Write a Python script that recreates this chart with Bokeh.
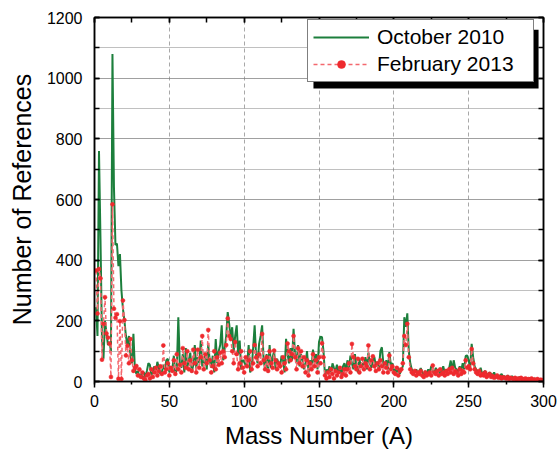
from bokeh.plotting import figure
from bokeh.models import (Range1d, LinearAxis, SingleIntervalTicker, Legend, LegendItem,
                          BoxAnnotation, ColumnDataSource, CustomJSTickFormatter)
from bokeh.embed import file_html
from bokeh.resources import INLINE

# Number of references per mass number A (A = 1 .. 300)
oct2010 = [
    245, 150, 760, 470, 140, 75, 200, 160, 120, 130, 100, 1080,
    640, 450, 455, 380, 420, 300, 240, 200, 150, 120, 150, 85,
    60, 157, 40, 25, 35, 15, 25, 10, 30, 15, 35, 60,
    55, 20, 35, 50, 30, 65, 45, 25, 30, 55, 40, 70,
    75, 30, 50, 40, 85, 25, 40, 212, 60, 45, 90, 30,
    110, 45, 70, 95, 30, 55, 120, 45, 80, 60, 135, 50,
    60, 90, 40, 120, 70, 45, 85, 30, 140, 60, 100, 120,
    185, 70, 110, 150, 229, 190, 140, 179, 100, 150, 185, 90,
    135, 40, 70, 68, 50, 60, 120, 30, 45, 110, 185, 80,
    60, 125, 150, 185, 70, 40, 90, 30, 120, 45, 80, 100,
    40, 75, 60, 50, 85, 70, 30, 141, 90, 60, 110, 70,
    174, 90, 60, 120, 50, 90, 70, 40, 60, 100, 30, 70,
    45, 105, 60, 90, 40, 130, 148, 146, 100, 20, 40, 30,
    50, 25, 60, 45, 35, 55, 30, 45, 20, 50, 60, 35,
    70, 40, 85, 60, 40, 90, 50, 30, 75, 45, 60, 50,
    80, 40, 95, 60, 45, 70, 80, 50, 65, 40, 100, 113,
    60, 45, 70, 40, 97, 55, 60, 35, 40, 30, 45, 25,
    40, 50, 212, 180, 225, 100, 60, 40, 35, 30, 40, 25,
    35, 44, 30, 20, 35, 25, 40, 30, 50, 35, 25, 45,
    30, 40, 25, 35, 50, 30, 40, 25, 45, 69, 35, 70,
    45, 40, 30, 50, 35, 60, 40, 84, 86, 70, 45, 124,
    80, 50, 40, 35, 30, 45, 25, 30, 35, 20, 25, 30,
    25, 20, 30, 18, 22, 15, 20, 25, 15, 18, 12, 20,
    15, 12, 18, 10, 14, 12, 10, 15, 8, 12, 10, 8,
    10, 8, 12, 6, 8, 10, 6, 5, 8, 4, 6, 5,
]
feb2013 = [
    366, 224, 371, 340, 72, 190, 278, 158, 145, 125, 15, 584,
    240, 210, 222, 9, 199, 8, 267, 203, 86, 118, 60, 140,
    70, 35, 45, 51, 20, 40, 15, 30, 10, 5, 20, 25,
    10, 40, 15, 30, 45, 20, 35, 50, 25, 119, 30, 40,
    60, 20, 45, 35, 70, 25, 90, 40, 55, 30, 110, 60,
    45, 100, 40, 70, 35, 105, 60, 30, 105, 45, 80, 150,
    40, 90, 60, 170, 70, 30, 50, 100, 40, 80, 55, 95,
    60, 100, 80, 120, 208, 150, 140, 100, 60, 130, 90, 40,
    60, 100, 45, 30, 80, 50, 70, 100, 40, 60, 120, 80,
    50, 90, 60, 157, 70, 40, 80, 35, 100, 60, 45, 102,
    70, 40, 60, 50, 30, 80, 60, 40, 125, 100, 70, 90,
    150, 80, 40, 110, 60, 100, 50, 80, 30, 70, 20, 60,
    40, 90, 50, 70, 30, 80, 60, 126, 80, 20, 10, 30,
    15, 40, 25, 10, 35, 20, 30, 45, 15, 25, 40, 20,
    40, 60, 30, 124, 80, 50, 40, 75, 30, 50, 75, 40,
    60, 50, 119, 40, 70, 83, 50, 35, 60, 40, 70, 50,
    30, 60, 45, 30, 86, 40, 50, 30, 25, 45, 20, 35,
    40, 60, 150, 120, 190, 80, 40, 30, 25, 35, 20, 30,
    25, 35, 20, 15, 30, 20, 25, 30, 20, 53, 30, 25,
    35, 20, 40, 25, 30, 20, 35, 25, 40, 30, 45, 25,
    35, 30, 20, 40, 25, 35, 30, 70, 45, 50, 40, 107,
    60, 40, 30, 25, 35, 20, 25, 20, 30, 15, 20, 25,
    15, 18, 12, 15, 20, 12, 15, 10, 14, 12, 10, 15,
    8, 12, 10, 8, 12, 6, 10, 8, 12, 6, 8, 10,
    5, 8, 6, 10, 5, 7, 5, 8, 4, 6, 5, 3,
]
mass_oct = list(range(1, len(oct2010) + 1))
mass_feb = list(range(1, len(feb2013) + 1))

FONT = "Liberation Sans"
GREEN = "#1c7f3c"
RED = "#ee2a2e"

p = figure(width=559, height=452, output_backend="svg", toolbar_location=None,
           x_range=Range1d(0, 300), y_range=Range1d(0, 1200),
           min_border_left=94, min_border_right=16, min_border_top=17, min_border_bottom=71)
p.background_fill_color = "white"
p.outline_line_color = "black"
p.outline_line_width = 1.5

# grids
p.xaxis.ticker = SingleIntervalTicker(interval=50, num_minor_ticks=2)
p.yaxis.ticker = SingleIntervalTicker(interval=200, num_minor_ticks=2)
p.xgrid.grid_line_color = "#a8a8a8"
p.xgrid.grid_line_dash = "4 3"
p.xgrid.grid_line_width = 1
p.ygrid.grid_line_color = "#808080"
p.ygrid.grid_line_dash = "1 1"
p.ygrid.minor_grid_line_color = "#808080"
p.ygrid.minor_grid_line_dash = "1 1"

# bottom axis
xa = p.xaxis[0]
xa.axis_label = "Mass Number (A)"
xa.axis_line_width = 1.5
xa.major_tick_out = 6
xa.major_tick_in = 0
xa.minor_tick_out = 3
xa.minor_tick_in = 0
xa.major_tick_line_width = 1.5
xa.minor_tick_line_width = 1.5
xa.major_label_standoff = 7
xa.axis_label_standoff = 12
xa.major_label_text_font = FONT
xa.major_label_text_font_size = "16px"
xa.major_label_text_color = "black"
xa.axis_label_text_font = FONT
xa.axis_label_text_font_size = "24px"
xa.axis_label_text_font_style = "normal"
xa.axis_label_text_color = "black"

# left axis
ya = p.yaxis[0]
ya.axis_label = "Number of References"
ya.axis_line_width = 1.5
ya.major_tick_out = 0
ya.major_tick_in = 5
ya.minor_tick_out = 0
ya.minor_tick_in = 5
ya.major_tick_line_width = 1.5
ya.minor_tick_line_width = 1.5
ya.major_label_standoff = 12
ya.axis_label_standoff = 8
ya.major_label_text_font = FONT
ya.major_label_text_font_size = "16px"
ya.major_label_text_color = "black"
ya.axis_label_text_font = FONT
ya.axis_label_text_font_size = "25px"
ya.axis_label_text_font_style = "normal"
ya.axis_label_text_color = "black"

# top and right axes: ticks only
blank = CustomJSTickFormatter(code="return ''")
top = LinearAxis(ticker=SingleIntervalTicker(interval=50, num_minor_ticks=2), formatter=blank)
right = LinearAxis(ticker=SingleIntervalTicker(interval=200, num_minor_ticks=2), formatter=blank)
for ax in (top, right):
    ax.axis_line_width = 1.5
    ax.major_tick_out = 0
    ax.major_tick_in = 5
    ax.minor_tick_out = 0
    ax.minor_tick_in = 5
    ax.major_tick_line_width = 1.5
    ax.minor_tick_line_width = 1.5
    ax.major_label_text_font_size = "2px"
    ax.major_label_standoff = 0
p.add_layout(top, "above")
p.add_layout(right, "right")

src_g = ColumnDataSource(dict(x=mass_oct, y=oct2010))
src_r = ColumnDataSource(dict(x=mass_feb, y=feb2013))
g_line = p.line("x", "y", source=src_g, line_color=GREEN, line_width=2)
r_line = p.line("x", "y", source=src_r, line_color="#f4686e", line_width=1.5,
                line_dash="4 3")
r_pts = p.scatter("x", "y", source=src_r, size=4, marker="circle",
                  fill_color=RED, line_color=RED, line_width=0.5)

# legend shadow
shadow = BoxAnnotation(left=146.3, right=296.7, bottom=966, top=1160,
                       fill_color="black", fill_alpha=1.0, line_color=None)
p.add_layout(shadow)

legend = Legend(items=[LegendItem(label="October 2010", renderers=[g_line]),
                       LegendItem(label="February 2013", renderers=[r_line, r_pts])],
                location=(213, 299))
legend.label_text_font = FONT
legend.label_text_font_size = "21px"
legend.label_text_color = "black"
legend.glyph_width = 56
legend.glyph_height = 20
legend.label_height = 20
legend.label_standoff = 8
legend.spacing = 3
legend.padding = 5
legend.label_width = 151
legend.border_line_color = "black"
legend.border_line_width = 1.2
legend.background_fill_color = "white"
legend.background_fill_alpha = 1.0
legend.margin = 0
p.add_layout(legend, "center")

open("out.html", "w").write(file_html(p, INLINE))
